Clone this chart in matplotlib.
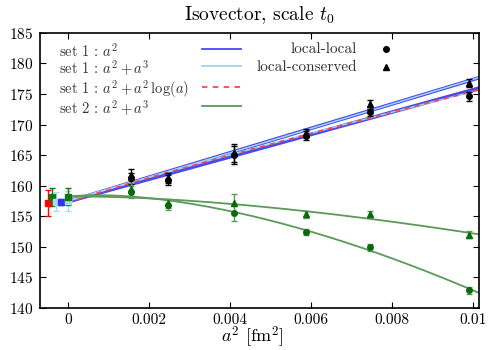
import numpy as np
import matplotlib
matplotlib.use("Agg")
from matplotlib import pyplot as plt

plt.rcParams['font.family'] = 'serif'
plt.rcParams['font.serif'] = ['cmr10']
plt.rcParams['mathtext.fontset'] = 'cm'
plt.rcParams['axes.formatter.use_mathtext'] = True
plt.rcParams['font.size'] = 11

# lattice spacings a^2 [fm^2]
a2 = np.array([0.00155, 0.00248, 0.0041, 0.00588, 0.00745, 0.0099])

# set 1 (black)
s1_ll = np.array([161.2, 160.9, 165.0, 168.2, 172.0, 174.6])
s1_ll_err = np.array([0.9, 0.8, 1.5, 0.7, 0.6, 0.7])
s1_lc = np.array([161.8, 161.3, 165.4, 168.6, 173.3, 176.8])
s1_lc_err = np.array([0.9, 0.8, 1.5, 0.7, 0.7, 0.7])

# set 2 (green)
s2_ll = np.array([159.0, 156.9, 155.6, 152.5, 149.9, 142.9])
s2_ll_err = np.array([1.0, 0.8, 1.4, 0.5, 0.5, 0.6])
s2_lc = np.array([159.4, 157.1, 157.1, 155.3, 155.3, 152.0])
s2_lc_err = np.array([1.0, 0.8, 1.5, 0.5, 0.5, 0.6])

# continuum values (shifted in x so they don't overlap)
cont_x = [-0.0005, -0.00039, -0.00029, -0.00018, 0.0, 0.0]
cont_y = [157.2, 158.1, 157.4, 157.4, 157.5, 158.2]
cont_err = [2.1, 1.45, 1.6, 0.5, 1.6, 1.4]
cont_col = ['red', '#117711', '#a8dcf0', '#3333ee', '#a8dcf0', '#117711']

blue = '#4a4af0'
lblue = '#9fd3ee'
red = '#ff4444'
green = '#5a9a5a'
dgreen = '#0a6a0a'


def fit(y, err, c0, terms):
    # intercept fixed to the continuum value, weighted least squares for the rest
    A = np.array([t(a2) for t in terms]).T / err[:, None]
    c, *_ = np.linalg.lstsq(A, (y - c0) / err, rcond=None)
    return lambda x: c0 + sum(ci * t(x) for ci, t in zip(c, terms))


lin = lambda x: x
cub = lambda x: x ** 1.5
lg = lambda x: x * 0.5 * np.log(np.maximum(x, 1e-12))

xs = np.linspace(0, 0.0102, 200)

fig = plt.figure(figsize=(4.91, 3.5), dpi=100)
ax = fig.add_axes([0.0815, 0.12, 0.894, 0.786])

for y, e in [(s1_ll, s1_ll_err), (s1_lc, s1_lc_err)]:
    ax.plot(xs, fit(y, e, cont_y[3], [lin])(xs), color=blue, lw=2.6)
for y, e in [(s1_ll, s1_ll_err), (s1_lc, s1_lc_err)]:
    ax.plot(xs, fit(y, e, cont_y[4], [lin, cub])(xs), color=lblue, lw=1.1)
ax.plot(xs, fit(s1_ll, s1_ll_err, cont_y[0], [lin, lg])(xs), color=red, lw=1.2, ls=(0, (3, 3)))
for y, e in [(s2_ll, s2_ll_err), (s2_lc, s2_lc_err)]:
    ax.plot(xs, fit(y, e, cont_y[5], [lin, cub])(xs), color=green, lw=1.3)

ax.errorbar(a2, s1_ll, yerr=s1_ll_err, fmt='o', color='black', ms=4, capsize=2.5, elinewidth=1)
ax.errorbar(a2, s1_lc, yerr=s1_lc_err, fmt='^', color='black', ms=4, capsize=2.5, elinewidth=1)
ax.errorbar(a2, s2_ll, yerr=s2_ll_err, fmt='o', color=dgreen, ecolor=green, ms=4, capsize=2.5, elinewidth=1)
ax.errorbar(a2, s2_lc, yerr=s2_lc_err, fmt='^', color=dgreen, ecolor=green, ms=4, capsize=2.5, elinewidth=1)

for x, y, e, c in zip(cont_x, cont_y, cont_err, cont_col):
    ax.errorbar(x, y, yerr=e, fmt='s', color=c, ms=4, capsize=2.5, elinewidth=1)

ax.set_xlim(-0.00069, 0.01015)
ax.set_ylim(140, 185)
ax.set_xticks([0, 0.002, 0.004, 0.006, 0.008, 0.01])
ax.set_xticklabels(['0', '0.002', '0.004', '0.006', '0.008', '0.01'])
ax.set_yticks(range(140, 186, 5))
ax.tick_params(direction='in', top=True, right=True, length=4, width=0.8, pad=5)
ax.tick_params(axis='x', pad=3.5)
for s in ax.spines.values():
    s.set_linewidth(1.2)
ax.set_xlabel(r'$a^2$ [fm$^2$]', fontsize=13)
ax.xaxis.set_label_coords(0.485, -0.062)
ax.set_title(r'Isovector, scale $t_0$', fontsize=14, pad=9)

# gnuplot-like key
labels = [r'set 1 : $a^2$', r'set 1 : $a^2 + a^3$',
          r'set 1 : $a^2 + a^2\,\log(a)$', r'set 2 : $a^2 + a^3$']
styles = [(blue, '-'), (lblue, '-'), (red, (0, (3, 3))), (green, '-')]
rows = [0.935, 0.870, 0.797, 0.727]
for lab, (c, ls), r in zip(labels, styles, rows):
    ax.text(0.044, r, lab, transform=ax.transAxes, ha='left', va='center',
            color='#333333', fontsize=10.5)
    ax.plot([0.368, 0.457], [r + 0.008, r + 0.008], transform=ax.transAxes, color=c, ls=ls, lw=1.3)
ax.text(0.7215, 0.94, 'local-local', transform=ax.transAxes, ha='right', va='center', color='#333333')
ax.text(0.7215, 0.875, 'local-conserved', transform=ax.transAxes, ha='right', va='center', color='#333333')
ax.plot([0.788], [0.94], 'o', color='black', ms=4, transform=ax.transAxes)
ax.plot([0.788], [0.875], '^', color='black', ms=4, transform=ax.transAxes)

fig.savefig('out.png', dpi=100)
